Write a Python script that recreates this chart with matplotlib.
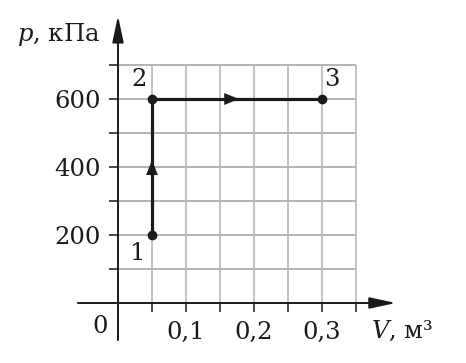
import matplotlib
matplotlib.use("Agg")
import matplotlib.pyplot as plt

plt.rcParams['font.family'] = ['DejaVu Serif']
plt.rcParams['mathtext.fontset'] = 'dejavuserif'

# process 1 -> 2 -> 3
V = [0.05, 0.05, 0.3]
p = [200, 600, 600]
point_labels = ["1", "2", "3"]

x_major = [0.1, 0.2, 0.3]
x_major_labels = ["0,1", "0,2", "0,3"]
x_minor = [0.05, 0.15, 0.25, 0.35]
y_major = [200, 400, 600]
y_minor = [100, 300, 500, 700]
x_grid = [0.05, 0.1, 0.15, 0.2, 0.25, 0.3, 0.35]
y_grid = [100, 200, 300, 400, 500, 600, 700]

W, H = 466, 363
fig = plt.figure(figsize=(W / 100, H / 100), dpi=100)
ax = fig.add_axes([0, 0, 1, 1])

# pixel layout: origin at (118, 303), 34 px per grid cell
ox, oy, cell = 118, 303, 34
dx, dy = 0.05 / cell, 100 / cell
ax.set_xlim(-ox * dx, (W - ox) * dx)
ax.set_ylim(-(H - oy) * dy, oy * dy)

for s in ax.spines.values():
    s.set_visible(False)
ax.spines['left'].set_position(('data', 0))
ax.spines['bottom'].set_position(('data', 0))

ink = "#1a1a1a"
grid_c = "#b3b3b3"

ax.vlines(x_grid, 0, max(y_grid), color=grid_c, lw=1.1, zorder=1)
ax.hlines(y_grid, 0, max(x_grid), color=grid_c, lw=1.4, zorder=1)

# axes with arrows
axis_style = "-|>,head_length=1.6,head_width=0.34"
ax.annotate("", xy=(0.409, 0), xytext=(-0.059, 0),
            arrowprops=dict(arrowstyle=axis_style, color=ink, lw=1.4,
                            shrinkA=0, shrinkB=0, mutation_scale=10), zorder=3)
ax.annotate("", xy=(0, 845), xytext=(0, -109),
            arrowprops=dict(arrowstyle=axis_style, color=ink, lw=1.4,
                            shrinkA=0, shrinkB=0, mutation_scale=10), zorder=3)

ax.set_xticks(x_major)
ax.set_xticklabels(x_major_labels)
ax.set_xticks(x_minor, minor=True)
ax.set_yticks(y_major)
ax.set_yticks(y_minor, minor=True)
ax.tick_params(which="both", direction="out", length=6.5, width=1.1, color=ink,
               labelsize=17.5, labelcolor=ink)
ax.tick_params(axis="x", pad=6.5)
ax.tick_params(axis="y", pad=6)

# process path
ax.plot(V, p, color=ink, lw=2.3, zorder=4, solid_capstyle="butt")
ax.plot(V, p, "o", color=ink, ms=6, zorder=5)
mid_style = "-|>,head_length=1.05,head_width=0.42"
ax.annotate("", xy=(V[0], 420), xytext=(V[0], 360),
            arrowprops=dict(arrowstyle=mid_style, color=ink, lw=0.1,
                            shrinkA=0, shrinkB=0, mutation_scale=10), zorder=5)
ax.annotate("", xy=(0.178, p[1]), xytext=(0.15, p[1]),
            arrowprops=dict(arrowstyle=mid_style, color=ink, lw=0.1,
                            shrinkA=0, shrinkB=0, mutation_scale=10), zorder=5)

# label offsets in pixels
offsets = [(-14, -19), (-13, 19), (10, 19)]
for v, pp, lab, (ox_, oy_) in zip(V, p, point_labels, offsets):
    ax.annotate(lab, (v, pp), xytext=(ox_ * 0.72, oy_ * 0.72), textcoords="offset points",
                ha="center", va="center", fontsize=17.5, color=ink)

ax.text(-0.027, -70, "0", ha="center", va="center", fontsize=17.5, color=ink)
ax.text(0.4176, -82, "$V$, м³", ha="center", va="center", fontsize=17.5, color=ink)
ax.text(-0.087, 790, "$p$, кПа", ha="center", va="center", fontsize=17.5, color=ink)

fig.savefig("out.png", dpi=100)
